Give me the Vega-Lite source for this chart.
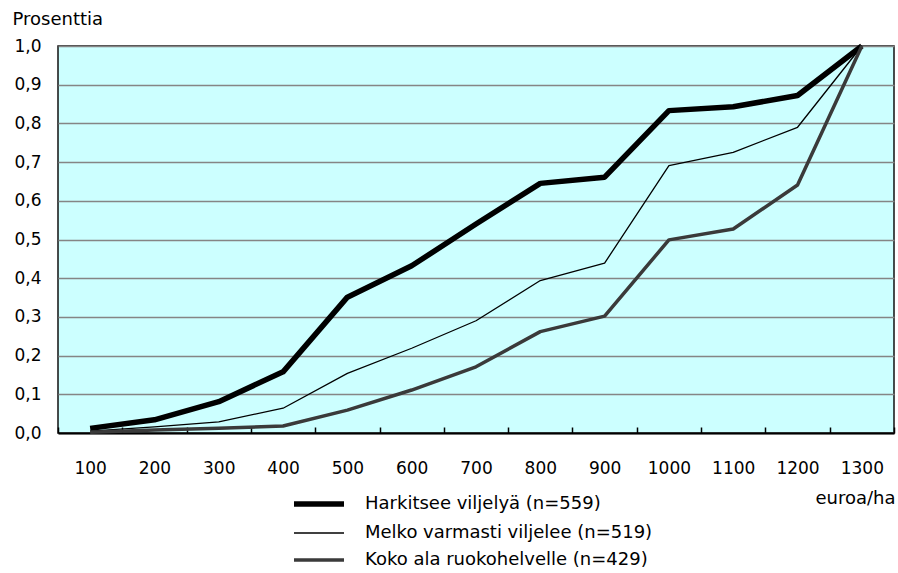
{
  "$schema": "https://vega.github.io/schema/vega-lite/v6.json",
  "width": 836,
  "height": 387,
  "autosize": {"type": "none"},
  "padding": {"left": 58, "top": 46, "right": 4, "bottom": 140},
  "background": "#ffffff",
  "data": {
    "values": [
      {"euroa": 100, "sarja": "Harkitsee viljelyä (n=559)", "osuus": 0.012},
      {"euroa": 200, "sarja": "Harkitsee viljelyä (n=559)", "osuus": 0.034},
      {"euroa": 300, "sarja": "Harkitsee viljelyä (n=559)", "osuus": 0.081},
      {"euroa": 400, "sarja": "Harkitsee viljelyä (n=559)", "osuus": 0.158},
      {"euroa": 500, "sarja": "Harkitsee viljelyä (n=559)", "osuus": 0.351},
      {"euroa": 600, "sarja": "Harkitsee viljelyä (n=559)", "osuus": 0.432},
      {"euroa": 700, "sarja": "Harkitsee viljelyä (n=559)", "osuus": 0.540},
      {"euroa": 800, "sarja": "Harkitsee viljelyä (n=559)", "osuus": 0.645},
      {"euroa": 900, "sarja": "Harkitsee viljelyä (n=559)", "osuus": 0.661},
      {"euroa": 1000, "sarja": "Harkitsee viljelyä (n=559)", "osuus": 0.833},
      {"euroa": 1100, "sarja": "Harkitsee viljelyä (n=559)", "osuus": 0.843},
      {"euroa": 1200, "sarja": "Harkitsee viljelyä (n=559)", "osuus": 0.872},
      {"euroa": 1300, "sarja": "Harkitsee viljelyä (n=559)", "osuus": 1.0},
      {"euroa": 100, "sarja": "Melko varmasti viljelee (n=519)", "osuus": 0.005},
      {"euroa": 200, "sarja": "Melko varmasti viljelee (n=519)", "osuus": 0.016},
      {"euroa": 300, "sarja": "Melko varmasti viljelee (n=519)", "osuus": 0.029},
      {"euroa": 400, "sarja": "Melko varmasti viljelee (n=519)", "osuus": 0.064},
      {"euroa": 500, "sarja": "Melko varmasti viljelee (n=519)", "osuus": 0.154},
      {"euroa": 600, "sarja": "Melko varmasti viljelee (n=519)", "osuus": 0.219},
      {"euroa": 700, "sarja": "Melko varmasti viljelee (n=519)", "osuus": 0.290},
      {"euroa": 800, "sarja": "Melko varmasti viljelee (n=519)", "osuus": 0.394},
      {"euroa": 900, "sarja": "Melko varmasti viljelee (n=519)", "osuus": 0.439},
      {"euroa": 1000, "sarja": "Melko varmasti viljelee (n=519)", "osuus": 0.691},
      {"euroa": 1100, "sarja": "Melko varmasti viljelee (n=519)", "osuus": 0.725},
      {"euroa": 1200, "sarja": "Melko varmasti viljelee (n=519)", "osuus": 0.790},
      {"euroa": 1300, "sarja": "Melko varmasti viljelee (n=519)", "osuus": 1.0},
      {"euroa": 100, "sarja": "Koko ala ruokohelvelle (n=429)", "osuus": 0.002},
      {"euroa": 200, "sarja": "Koko ala ruokohelvelle (n=429)", "osuus": 0.008},
      {"euroa": 300, "sarja": "Koko ala ruokohelvelle (n=429)", "osuus": 0.012},
      {"euroa": 400, "sarja": "Koko ala ruokohelvelle (n=429)", "osuus": 0.018},
      {"euroa": 500, "sarja": "Koko ala ruokohelvelle (n=429)", "osuus": 0.059},
      {"euroa": 600, "sarja": "Koko ala ruokohelvelle (n=429)", "osuus": 0.111},
      {"euroa": 700, "sarja": "Koko ala ruokohelvelle (n=429)", "osuus": 0.171},
      {"euroa": 800, "sarja": "Koko ala ruokohelvelle (n=429)", "osuus": 0.262},
      {"euroa": 900, "sarja": "Koko ala ruokohelvelle (n=429)", "osuus": 0.302},
      {"euroa": 1000, "sarja": "Koko ala ruokohelvelle (n=429)", "osuus": 0.499},
      {"euroa": 1100, "sarja": "Koko ala ruokohelvelle (n=429)", "osuus": 0.527},
      {"euroa": 1200, "sarja": "Koko ala ruokohelvelle (n=429)", "osuus": 0.641},
      {"euroa": 1300, "sarja": "Koko ala ruokohelvelle (n=429)", "osuus": 1.0}
    ]
  },
  "mark": {"type": "line", "strokeJoin": "round", "strokeCap": "butt"},
  "encoding": {
    "x": {
      "field": "euroa",
      "type": "ordinal",
      "bandPosition": 0.5,
      "scale": {"type": "band", "paddingInner": 0, "paddingOuter": 0},
      "axis": {
        "title": "euroa/ha",
        "titleX": 757,
        "titleY": 70,
        "titleAlign": "left",
        "titleBaseline": "alphabetic",
        "titleAnchor": null,
        "titleFont": "DejaVu Sans",
        "titleFontSize": 18,
        "titleFontWeight": "normal",
        "titleColor": "#000000",
        "labelAngle": 0,
        "labelFont": "DejaVu Sans",
        "labelFontSize": 17,
        "labelColor": "#000000",
        "labelPadding": 33,
        "tickBand": "extent",
        "tickSize": -6,
        "tickColor": "#000000",
        "tickWidth": 1.5,
        "domainColor": "#000000",
        "domainWidth": 2,
        "grid": false
      }
    },
    "y": {
      "field": "osuus",
      "type": "quantitative",
      "scale": {"domain": [0, 1], "nice": false},
      "axis": {
        "title": "Prosenttia",
        "titleAngle": 0,
        "titleX": -46,
        "titleY": -22,
        "titleAlign": "left",
        "titleBaseline": "alphabetic",
        "titleFont": "DejaVu Sans",
        "titleFontSize": 18,
        "titleFontWeight": "normal",
        "titleColor": "#000000",
        "values": [0, 0.1, 0.2, 0.3, 0.4, 0.5, 0.6, 0.7, 0.8, 0.9, 1.0],
        "labelExpr": "replace(format(datum.value, '.1f'), '.', ',')",
        "labelFont": "DejaVu Sans",
        "labelFontSize": 17,
        "labelColor": "#000000",
        "labelPadding": 17,
        "ticks": false,
        "domain": false,
        "grid": true,
        "gridColor": "#858585",
        "gridWidth": 1.6,
        "gridOpacity": 1
      }
    },
    "color": {
      "field": "sarja",
      "type": "nominal",
      "sort": ["Harkitsee viljelyä (n=559)", "Melko varmasti viljelee (n=519)", "Koko ala ruokohelvelle (n=429)"],
      "scale": {
        "domain": ["Harkitsee viljelyä (n=559)", "Melko varmasti viljelee (n=519)", "Koko ala ruokohelvelle (n=429)"],
        "range": ["#000000", "#000000", "#3a3a3a"]
      },
      "legend": {"title": null}
    },
    "strokeWidth": {
      "field": "sarja",
      "type": "nominal",
      "sort": ["Harkitsee viljelyä (n=559)", "Melko varmasti viljelee (n=519)", "Koko ala ruokohelvelle (n=429)"],
      "scale": {
        "type": "ordinal",
        "domain": ["Harkitsee viljelyä (n=559)", "Melko varmasti viljelee (n=519)", "Koko ala ruokohelvelle (n=429)"],
        "range": [5.5, 1.3, 3.5]
      },
      "legend": {"title": null}
    }
  },
  "config": {
    "view": {"fill": "#ccffff", "stroke": "#111111", "strokeWidth": 1.5},
    "legend": {
      "orient": "none",
      "legendX": 252,
      "legendY": 449,
      "padding": 0,
      "symbolType": "M-5,0H5",
      "symbolSize": 100,
      "labelFont": "DejaVu Sans",
      "labelFontSize": 18,
      "labelColor": "#000000",
      "labelOffset": 37,
      "rowPadding": 9,
      "labelLimit": 400
    }
  }
}
